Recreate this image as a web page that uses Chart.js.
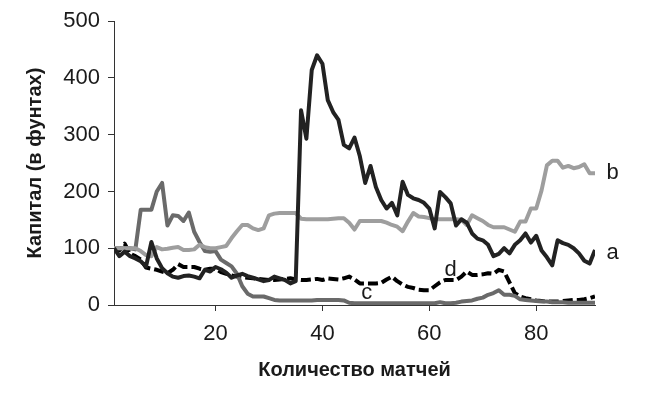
<!DOCTYPE html>
<html>
<head>
<meta charset="utf-8">
<script src="https://cdn.jsdelivr.net/npm/chart.js@4.4.1/dist/chart.umd.min.js"></script>
<style>
  html, body { margin: 0; padding: 0; background: #fff; }
  #wrap { width: 650px; height: 398px; }
</style>
</head>
<body>
<div id="wrap"><canvas id="c" width="650" height="398"></canvas></div>
<script>
// Match numbers 1..91
const matches = Array.from({length: 91}, (_, i) => i + 1);

const seriesA = [100,86,94,86,82,77,68,111,82,65,
  56,50,48,51,52,50,47,62,59,67,
  63,57,48,52,55,51,48,45,42,44,
  50,47,44,38,42,343,293,414,440,425,
  361,340,326,282,276,295,262,215,245,208,
  185,170,180,158,217,194,188,185,180,170,
  135,199,190,179,140,151,145,126,117,114,
  106,86,90,100,91,106,114,126,110,122,
  96,84,70,114,109,106,100,91,78,73,97];

const seriesB = [100,100,100,100,100,95,88,86,102,98,
  99,101,102,97,97,98,106,102,100,100,
  102,104,118,130,141,141,135,132,135,158,
  161,162,162,162,162,152,151,151,151,151,
  151,152,153,153,145,133,148,148,148,148,
  148,145,141,138,130,147,162,156,155,153,
  151,151,151,151,151,150,141,158,153,148,
  141,137,137,137,133,129,147,147,170,170,
  202,246,254,254,242,245,241,243,248,232,232];

const seriesC = [100,100,100,100,98,168,168,168,200,215,
  140,158,157,148,163,129,111,95,94,95,
  80,74,68,55,33,20,15,15,15,12,
  9,8,8,8,8,8,8,8,9,9,
  9,9,9,8,4,3,3,3,3,3,
  3,3,3,3,3,3,3,3,3,3,
  3,5,3,3,4,6,7,8,11,13,
  18,21,26,18,18,16,10,9,8,7,
  6,6,5,5,5,4,4,4,4,4,4];

const seriesD = [100,96,108,90,86,80,66,64,62,59,
  56,62,72,67,67,67,64,62,64,64,
  58,55,52,50,49,48,47,46,45,44,
  44,45,46,47,45,44,44,45,46,44,
  47,46,45,47,50,45,38,38,38,38,
  39,45,50,42,36,32,30,27,26,26,
  33,40,44,44,44,50,59,53,53,54,
  56,55,62,59,40,21,15,12,10,8,
  7,6,6,6,7,8,9,9,10,12,15];

const xTickValues = [20, 40, 60, 80];
const yTickValues = [0, 100, 200, 300, 400, 500];
const seriesNames = ['a', 'b', 'c', 'd'];
// label anchor positions in data coordinates (match, capital)
const labelMatch = [94.3, 94.3, 48.3, 64];
const labelValue = [91, 232, 21, 62];

const xTitle = 'Количество матчей';
const yTitle = 'Капитал (в фунтах)';

const FONT = "'Liberation Sans', Arial, sans-serif";

function toPoints(arr) { return arr.map((v, i) => ({x: matches[i], y: v})); }

const seriesLabelPlugin = {
  id: 'seriesLabels',
  afterDatasetsDraw(chart) {
    const {ctx, scales: {x, y}} = chart;
    ctx.save();
    ctx.fillStyle = '#1a1a1a';
    ctx.font = '22px ' + FONT;
    ctx.textAlign = 'center';
    ctx.textBaseline = 'middle';
    seriesNames.forEach((n, i) => {
      ctx.fillText(n, x.getPixelForValue(labelMatch[i]), y.getPixelForValue(labelValue[i]));
    });
    ctx.restore();
  }
};

new Chart(document.getElementById('c'), {
  type: 'line',
  data: {
    datasets: [
      {label: 'a', data: toPoints(seriesA), borderColor: '#222222', borderWidth: 4},
      {label: 'b', data: toPoints(seriesB), borderColor: '#9e9e9e', borderWidth: 4},
      {label: 'c', data: toPoints(seriesC), borderColor: '#6a6a6a', borderWidth: 4},
      {label: 'd', data: toPoints(seriesD), borderColor: '#000000', borderWidth: 4, borderDash: [10, 4]}
    ]
  },
  options: {
    responsive: false,
    animation: false,
    devicePixelRatio: 1,
    datasets: { line: { pointRadius: 0, tension: 0, fill: false, borderJoinStyle: 'round' } },
    layout: { padding: { left: 0, top: 21, right: 55, bottom: 0 } },
    plugins: { legend: { display: false }, tooltip: { enabled: false } },
    scales: {
      x: {
        type: 'linear',
        min: 1, max: 91,
        afterBuildTicks: (s) => { s.ticks = xTickValues.map(v => ({value: v})); },
        afterFit: (s) => { s.height = 93; },
        grid: { drawOnChartArea: false, drawTicks: true, tickLength: 6, color: '#333' },
        border: { display: true, color: '#333', width: 1 },
        ticks: { color: '#1a1a1a', font: { family: FONT, size: 22 }, padding: 10, maxRotation: 0 },
        title: { display: true, text: xTitle, color: '#1a1a1a', font: { family: FONT, size: 20, weight: 'bold' }, padding: { top: 0, bottom: 16 } }
      },
      y: {
        min: 0, max: 500,
        afterBuildTicks: (s) => { s.ticks = yTickValues.map(v => ({value: v})); },
        afterFit: (s) => { s.width = 114; },
        grid: { drawOnChartArea: false, drawTicks: true, tickLength: 6, color: '#333' },
        border: { display: true, color: '#333', width: 1 },
        ticks: { color: '#1a1a1a', font: { family: FONT, size: 22 }, padding: 8 },
        title: { display: true, text: yTitle, color: '#1a1a1a', font: { family: FONT, size: 20, weight: 'bold' }, padding: { top: 23, bottom: 0 } }
      }
    }
  },
  plugins: [seriesLabelPlugin]
});
</script>
</body>
</html>
